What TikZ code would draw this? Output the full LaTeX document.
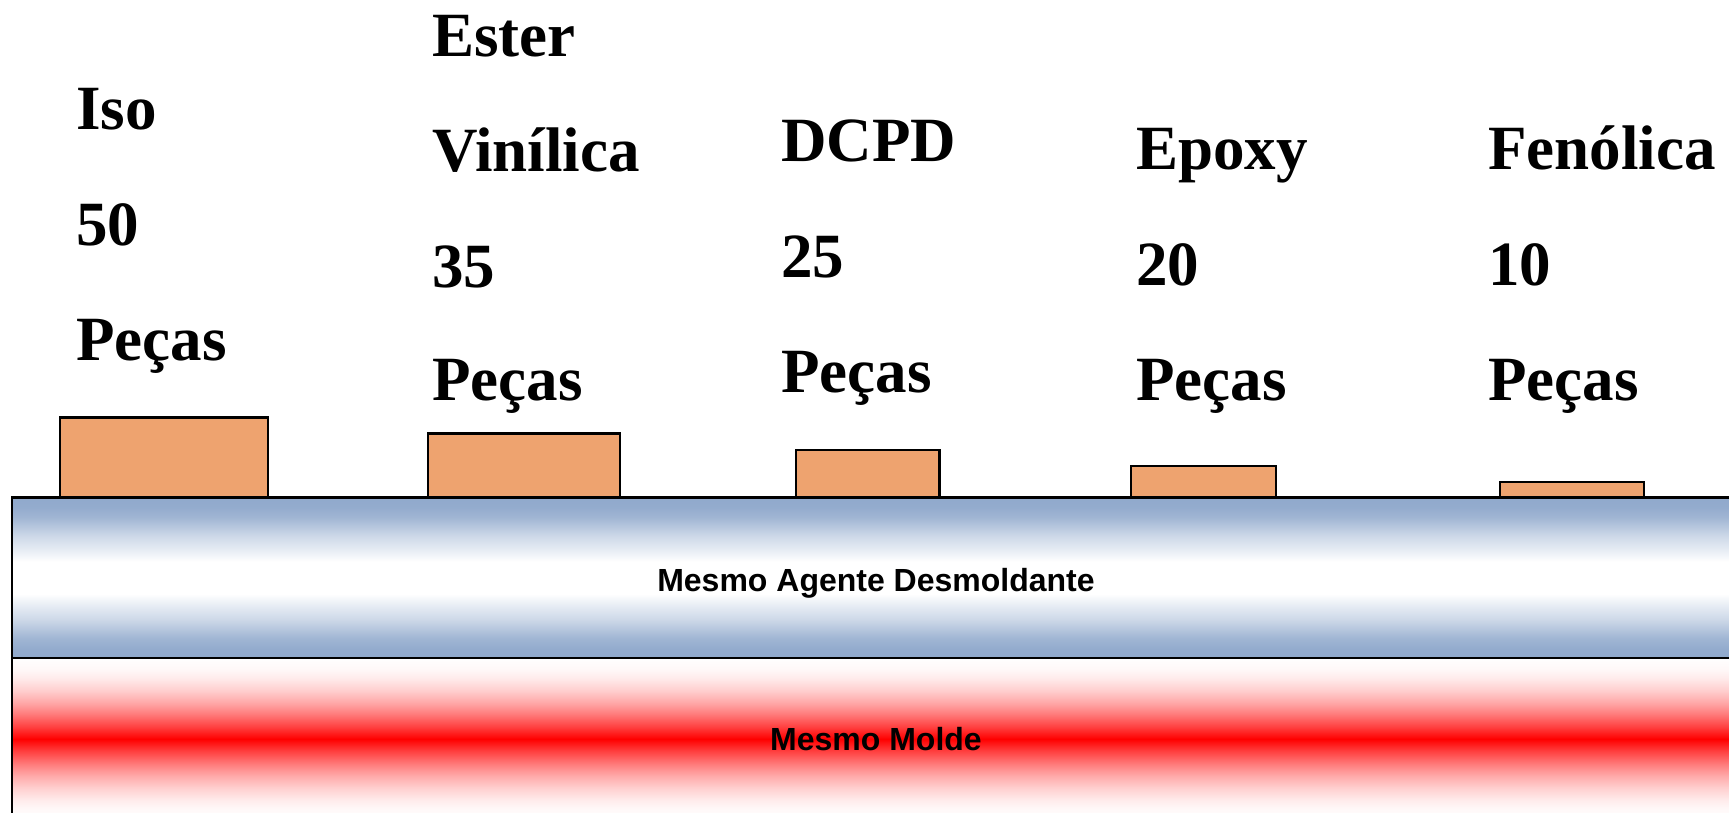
\documentclass[tikz,border=0pt]{standalone}
\usepackage{fontspec}
\setmainfont{Liberation Serif}
\newfontfamily\arialfont{Liberation Sans}
\definecolor{piece}{RGB}{238,163,111}
\definecolor{bandblue}{RGB}{144,169,204}
\pgfdeclareverticalshading{agentshade}{100bp}{color(0bp)=(bandblue); color(25bp)=(bandblue); color(28bp)=(bandblue!97!white); color(31.25bp)=(bandblue!85!white); color(37bp)=(bandblue!45!white); color(40.75bp)=(bandblue!25!white); color(45bp)=(white); color(55bp)=(white); color(59.25bp)=(bandblue!25!white); color(63bp)=(bandblue!45!white); color(68.75bp)=(bandblue!85!white); color(72bp)=(bandblue!97!white); color(75bp)=(bandblue); color(100bp)=(bandblue)}
\pgfdeclareverticalshading{moldshade}{100bp}{color(0bp)=(white); color(25bp)=(white); color(28.75bp)=(red!3!white); color(31.25bp)=(red!8!white); color(35bp)=(red!19!white); color(38.75bp)=(red!34!white); color(42.5bp)=(red!53!white); color(46.25bp)=(red!75!white); color(50bp)=(red); color(53.75bp)=(red!75!white); color(57.5bp)=(red!53!white); color(61.25bp)=(red!34!white); color(65bp)=(red!19!white); color(68.75bp)=(red!8!white); color(71.25bp)=(red!3!white); color(75bp)=(white); color(100bp)=(white)}
\begin{document}
\begin{tikzpicture}[x=1pt,y=-1pt,
  lbl/.style={anchor=base west, inner sep=0pt, font=\fontsize{63}{63}\selectfont\bfseries},
  piecebox/.style={draw=black, line width=2.5pt, fill=piece},
  layerlbl/.style={anchor=base, inner sep=0pt, font=\arialfont\fontsize{32}{32}\selectfont\bfseries},
  layer/.style={draw=black, line width=2.5pt}]
\useasboundingbox (0,0) rectangle (1729,813);
\begin{scope}
\clip (0,0) rectangle (1729,813);
% mould layer (red)
\path[shading=moldshade] (12,658) rectangle (1745,820);
\draw[layer] (12,658) rectangle (1745,830);
% release agent layer (blue)
\path[shading=agentshade] (12,497.5) rectangle (1745,658);
\draw[layer] (12,497.5) rectangle (1745,658);
\end{scope}
% pieces
\draw[piecebox] (60,417.5) rectangle (268,497.5);
\draw[piecebox] (428,433.5) rectangle (620,497.5);
\draw[piecebox] (796,450) rectangle (939.5,497.5);
\draw[piecebox] (1131,466) rectangle (1276,497.5);
\draw[piecebox] (1500,482) rectangle (1644,497.5);
% layer labels
\node[layerlbl] (agente) at (876,591) {Mesmo Agente Desmoldante};
\node[layerlbl] (molde) at (876,750) {Mesmo Molde};
% column 1
\node[lbl] (c1a) at (76,130) {Iso};
\node[lbl] (c1b) at (76,245) {50};
\node[lbl] (c1c) at (76,360) {Peças};
% column 2
\node[lbl] (c2a) at (432,57) {Ester};
\node[lbl] (c2b) at (432,172) {Vinílica};
\node[lbl] (c2c) at (432,287) {35};
\node[lbl] (c2d) at (432,400) {Peças};
% column 3
\node[lbl] (c3a) at (781,162) {DCPD};
\node[lbl] (c3b) at (781,277) {25};
\node[lbl] (c3c) at (781,392) {Peças};
% column 4
\node[lbl] (c4a) at (1136,170) {Epoxy};
\node[lbl] (c4b) at (1136,285) {20};
\node[lbl] (c4c) at (1136,400) {Peças};
% column 5
\node[lbl] (c5a) at (1488,170) {Fenólica};
\node[lbl] (c5b) at (1488,285) {10};
\node[lbl] (c5c) at (1488,400) {Peças};
\end{tikzpicture}
\end{document}
